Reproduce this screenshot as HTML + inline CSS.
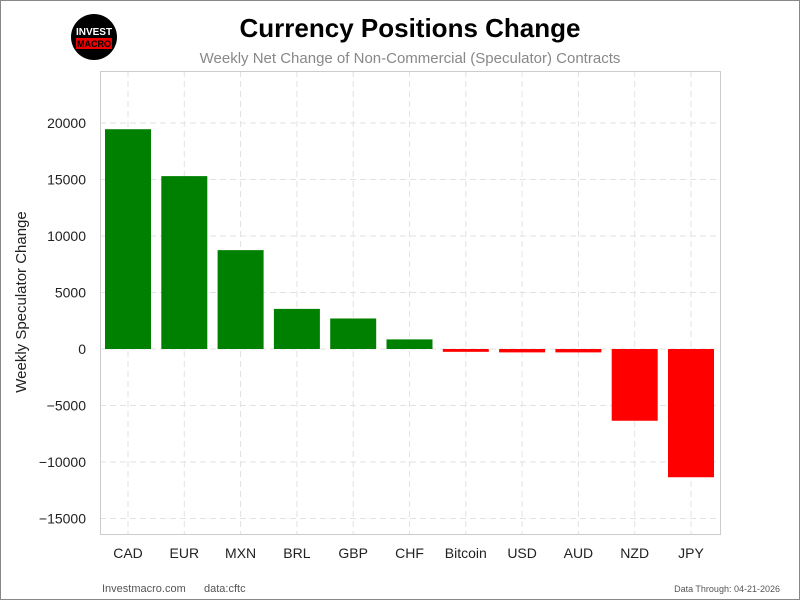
<!DOCTYPE html>
<html><head><meta charset="utf-8"><style>
body{margin:0;background:#fff;}
svg{display:block;font-family:"Liberation Sans",sans-serif;}
</style></head><body>
<svg id="c" width="800" height="600" viewBox="0 0 800 600">
<rect x="0.5" y="0.5" width="799" height="599" fill="#fff" stroke="#888"/>
<g>
<circle cx="94" cy="37" r="23" fill="#000"/>
<text x="94" y="35" text-anchor="middle" font-size="10" font-weight="bold" fill="#fff">INVEST</text>
<rect x="76" y="38" width="36" height="11" fill="#e00"/>
<text x="94" y="47" text-anchor="middle" font-size="9" font-weight="bold" fill="#000">MACRO</text>
</g>
<text x="410" y="37" text-anchor="middle" font-size="26" font-weight="bold" fill="#000">Currency Positions Change</text>
<text x="410" y="63" text-anchor="middle" font-size="15" fill="#888">Weekly Net Change of Non-Commercial (Speculator) Contracts</text>
<text transform="translate(26,302) rotate(-90)" text-anchor="middle" font-size="15" fill="#222">Weekly Speculator Change</text>
<g id="grid"></g><g id="bars"></g><g id="ticks"></g>
<rect x="100.5" y="71.5" width="620" height="463" fill="none" stroke="#ccc"/>
<text x="102" y="592" font-size="11" fill="#555">Investmacro.com</text>
<text x="204" y="592" font-size="11" fill="#555">data:cftc</text>
<text x="780" y="592" text-anchor="end" font-size="9" fill="#555">Data Through: 04-21-2026</text>
</svg>
<script>
const categories=["CAD","EUR","MXN","BRL","GBP","CHF","Bitcoin","USD","AUD","NZD","JPY"];
const values=[19450,15300,8750,3550,2700,850,-250,-300,-300,-6350,-11350];
const yTicks=[20000,15000,10000,5000,0,-5000,-10000,-15000];
const NS="http://www.w3.org/2000/svg";
const y=v=>349-v*0.0113;
const x=i=>128+i*56.3;
function mk(t,a,p){const e=document.createElementNS(NS,t);for(const k in a)e.setAttribute(k,a[k]);document.getElementById(p).appendChild(e);return e;}
yTicks.forEach(t=>{
 const g=mk("line",{x1:100,x2:720,y1:y(t),y2:y(t),stroke:"#e2e2e2","stroke-dasharray":"6,4"},"grid");
 
 
 const l=mk("text",{x:86,y:y(t)+5,"text-anchor":"end","font-size":14,fill:"#222"},"ticks");l.textContent=String(t).replace("-","\u2212");
 
 
});
categories.forEach((c,i)=>{
 const g=mk("line",{x1:x(i),x2:x(i),y1:71,y2:534,stroke:"#e2e2e2","stroke-dasharray":"6,4"},"grid");
 
 
 const v=values[i];
 const b=mk("rect",{x:x(i)-23,width:46,y:Math.min(y(v),y(0)),height:Math.max(1,Math.abs(y(v)-y(0))),fill:v>=0?"#008000":"#ff0000"},"bars");
 
 
 const l=mk("text",{x:x(i),y:558,"text-anchor":"middle","font-size":14,fill:"#222"},"ticks");l.textContent=c;
 
 
});
</script>
</body></html>
